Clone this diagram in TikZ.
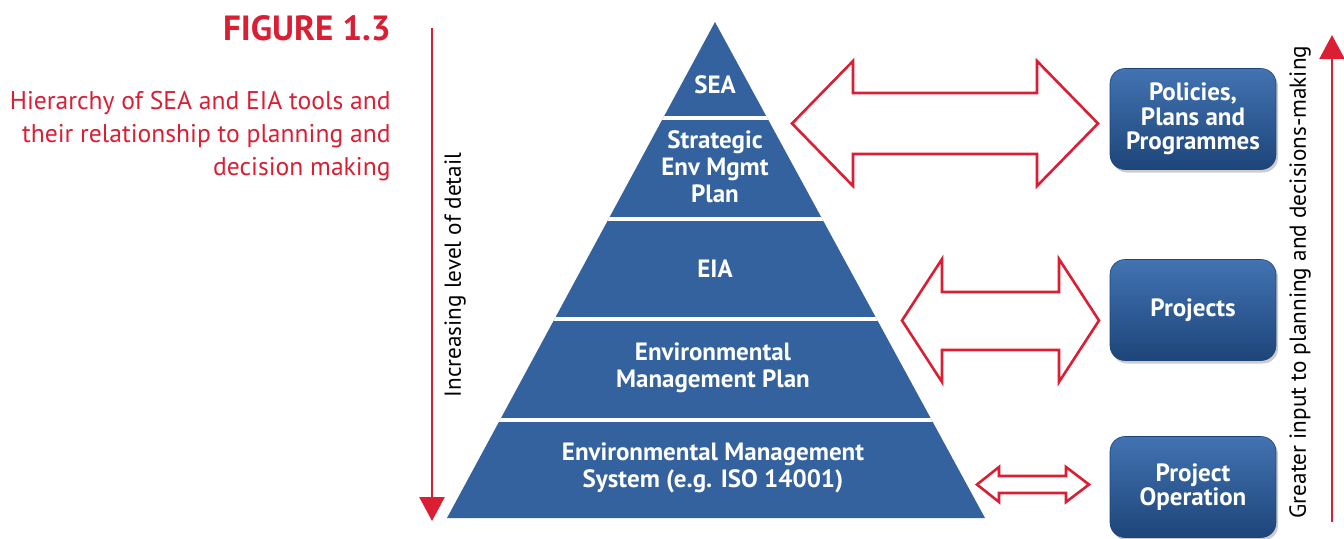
\documentclass[tikz,border=0pt]{standalone}
\usepackage{fontspec}
\setmainfont{PT Sans}
\usetikzlibrary{arrows.meta,shadows}
\definecolor{figRed}{HTML}{DA1F35}
\definecolor{pyrBlue}{HTML}{33629E}
\definecolor{boxTop}{HTML}{4273B2}
\definecolor{boxBot}{HTML}{1D4579}

\tikzset{
	tier/.style={text=white, align=center, font=\fontsize{12.5}{13.5}\selectfont\bfseries},
	deciBox/.style={rounded corners=7.5pt, top color=boxTop, bottom color=boxBot,
		draw=boxBot, line width=0.3pt, minimum width=83pt, minimum height=50.5pt,
		text=white, align=center, font=\fontsize{12.5}{12.2}\selectfont\bfseries,
		drop shadow={opacity=0.4, shadow xshift=1pt, shadow yshift=-1.5pt}},
	hollowArrow/.style={draw=figRed, fill=white, line width=1.3pt},
	sideArrow/.style={figRed, line width=1.3pt, -{Triangle[length=12pt,width=12.5pt]}},
	sideLabel/.style={rotate=90, inner sep=0pt, font=\fontsize{11.6}{13}\selectfont}
}

\begin{document}
\begin{tikzpicture}[x=0.5pt, y=-0.5pt]
	\useasboundingbox (0,0) rectangle (1344,538);

	% caption
	\node[anchor=east, inner sep=0pt, text=figRed, font=\fontsize{17.5}{20}\selectfont\bfseries] (fig) at (391,28) {FIGURE 1.3};
	\node[anchor=east, inner sep=0pt, align=right, text=figRed, font=\fontsize{12.8}{16.5}\selectfont] (caption) at (391,136)
	{Hierarchy of SEA and EIA tools and\\their relationship to planning and\\decision making};

	% pyramid
	\coordinate (apex) at (715,22);
	\coordinate (baseL) at (447,518);
	\coordinate (baseR) at (985,518);
	\fill[pyrBlue] (apex) -- (baseR) -- (baseL) -- cycle;
	\begin{scope}
		\clip (apex) -- (baseR) -- (baseL) -- cycle;
		\foreach \yy in {118,218.5,319,419.5}
			\draw[white, line width=2pt] (400,\yy) -- (1000,\yy);
	\end{scope}

	\node[tier] (sea) at (715,85) {SEA};
	\node[tier] (semp) at (715,167) {Strategic\\Env Mgmt\\Plan};
	\node[tier] (eia) at (715,269) {EIA};
	\node[tier] (emp) at (713,368) {Environmental\\Management Plan};
	\node[tier] (ems) at (713,468) {Environmental Management\\System (e.g. ISO 14001)};

	% decision levels
	\node[deciBox] (ppp) at (1193,119) {Policies,\\Plans and\\Programmes};
	\node[deciBox] (proj) at (1193,310) {Projects};
	\node[deciBox] (projOp) at (1193,487) {Project\\Operation};

	% hollow double arrows
	\draw[hollowArrow] (792,123.5) -- (853,61) -- (853,93) -- (1037,93) -- (1037,61) -- (1098,123.5)
		-- (1037,186) -- (1037,154) -- (853,154) -- (853,186) -- cycle;
	\draw[hollowArrow] (902,320.5) -- (942,259) -- (942,292) -- (1059,292) -- (1059,259) -- (1099,320.5)
		-- (1059,382) -- (1059,350) -- (942,350) -- (942,382) -- cycle;
	\draw[hollowArrow] (977,484.5) -- (999,467) -- (999,476) -- (1066,476) -- (1066,467) -- (1089,484.5)
		-- (1066,502) -- (1066,493) -- (999,493) -- (999,502) -- cycle;

	% side arrows
	\coordinate (detailTop) at (432,28);
	\coordinate (detailEnd) at (432,521);
	\draw[sideArrow] (detailTop) -- (detailEnd);
	\node[sideLabel] (detail) at (455,275) {Increasing level of detail};

	\coordinate (inputStart) at (1332,522);
	\coordinate (inputEnd) at (1332,35);
	\draw[sideArrow] (inputStart) -- (inputEnd);
	\node[sideLabel] (input) at (1300,282) {Greater input to planning and decisions-making};
\end{tikzpicture}
\end{document}
